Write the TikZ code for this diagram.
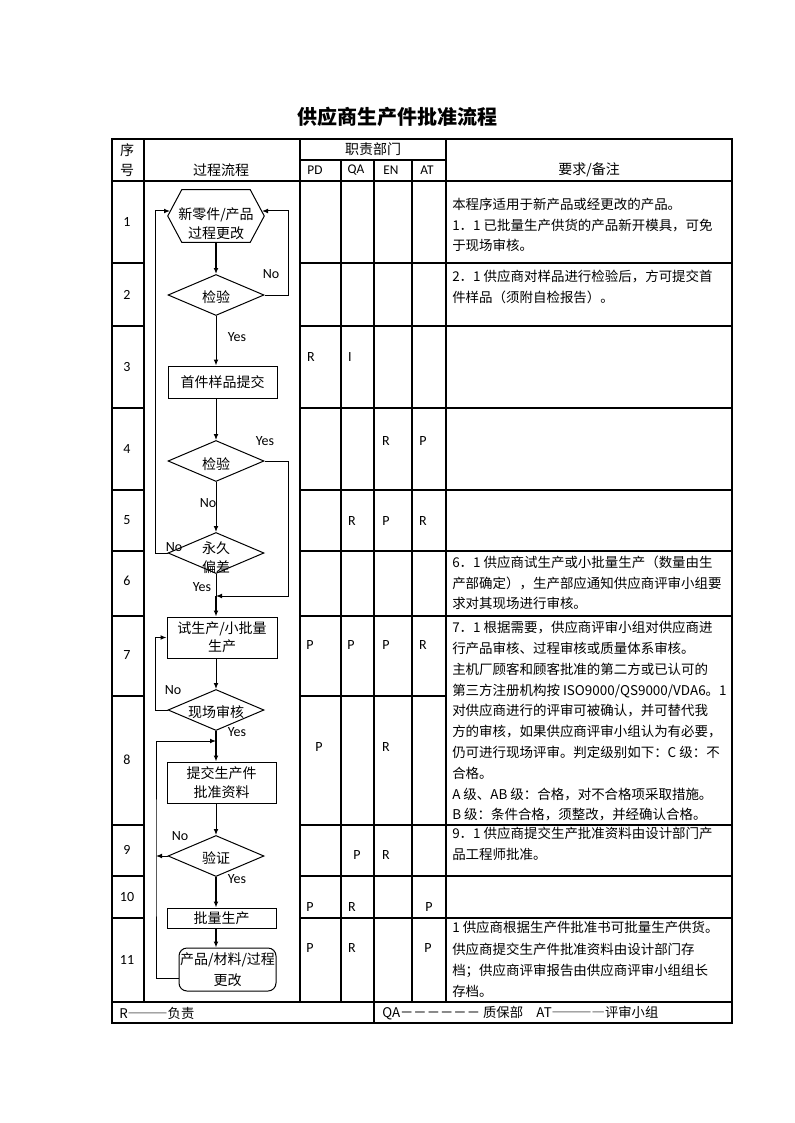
\documentclass[tikz,border=0pt]{standalone}
\usepackage{fontspec}
\setmainfont{Noto Sans CJK SC}
\newfontfamily\lat{Carlito}
\usetikzlibrary{shapes.geometric,arrows.meta,calc}
\begin{document}
\begin{tikzpicture}[x=0.75pt,y=-0.75pt,
  font=\fontsize{10.5}{13.5}\selectfont,
  tbl/.style={line width=0.8pt},
  fl/.style={line width=0.75pt},
  arr/.style={fl,-{Latex[length=4.5pt,width=3.6pt]}},
  thk/.style={line width=1.4pt},
  fbox/.style={draw,fl,rectangle,inner sep=0pt,align=center},
  dia/.style={draw,fl,diamond,inner sep=0pt,minimum width=72pt,minimum height=30.75pt},
  ftxt/.style={inner sep=0pt,align=center,font=\fontsize{10.5}{14.25}\selectfont},
  lbl/.style={inner sep=0pt,font=\lat\fontsize{10.5}{12}\selectfont},
  rem/.style={anchor=north west,inner sep=0pt,align=left,font=\fontsize{10.1}{15.3}\selectfont}]
\useasboundingbox (0,0) rectangle (794,1123);

% title
\node[inner sep=0pt,font=\fontsize{15}{18}\selectfont\bfseries] (title) at (397,117) {供应商生产件批准流程};

% table grid
\draw[tbl] (112,139) rectangle (732,1023);
\draw[tbl] (144,139) -- (144,1002) (300,139) -- (300,1002) (446,139) -- (446,1002);
\draw[tbl] (341,160) -- (341,1002) (374,160) -- (374,1023) (412,160) -- (412,1002);
\draw[tbl] (300,160) -- (446,160) (112,181) -- (732,181) (112,1002) -- (732,1002);
\foreach \y in {263,326,408,490,551,616,825,876,918}
  {\draw[tbl] (112,\y) -- (144,\y) (300,\y) -- (732,\y);}
\draw[tbl] (112,696) -- (144,696) (300,696) -- (446,696);

% header
\node[inner sep=0pt] (hxu) at (127,150) {序};
\node[inner sep=0pt] (hhao) at (127,170) {号};
\node[inner sep=0pt] (hflow) at (221,170) {过程流程};
\node[inner sep=0pt] (hdept) at (373,149) {职责部门};
\node[lbl,font=\lat\fontsize{10}{12}\selectfont] (hpd) at (315,170) {PD};
\node[lbl,font=\lat\fontsize{10}{12}\selectfont] (hqa) at (356,170) {QA};
\node[lbl,font=\lat\fontsize{10}{12}\selectfont] (hen) at (391,170) {EN};
\node[lbl,font=\lat\fontsize{10}{12}\selectfont] (hat) at (427,170) {AT};
\node[inner sep=0pt] (hreq) at (589,170) {要求/备注};

% row numbers
\foreach \n/\y in {1/222,2/295,3/367,4/449,5/520,6/581,7/655,8/760,9/850,10/897,11/960}
  {\node[lbl] (no\n) at (127,\y) {\n};}

% responsibilities
\foreach \t/\x/\y [count=\i] in {R/311/357,I/350/357,R/386/441,P/423/441,
  R/352/521,P/386/521,R/423/521,P/310/645,P/351/645,P/386/645,R/423/645,
  P/319/747,R/386/747,P/357/855,R/386/855,P/310/907,R/352/907,P/429/907,
  P/310/948,R/352/948,P/428/948}
  {\node[lbl] (resp\i) at (\x,\y) {\t};}

% ---------- flow chart ----------
\node[inner sep=0pt,minimum width=72pt,minimum height=39pt] (hex) at (216,216) {};
\draw[fl] (hex.west) -- ([xshift=10.5pt]hex.north west) -- ([xshift=-10.5pt]hex.north east)
  -- (hex.east) -- ([xshift=-10.5pt]hex.south east) -- ([xshift=10.5pt]hex.south west) -- cycle;
\node[ftxt] (hext) at (216,224) {新零件/产品\\过程更改};
\coordinate (hexR) at (262,211);
\coordinate (hexL) at (170,211);

\node[dia] (d1) at (216,295) {};
\node[ftxt] (d1t) at (216,297) {检验};
\node[fbox,minimum width=81.75pt,minimum height=24pt] (b1) at (222.5,382) {首件样品提交};
\node[dia] (d2) at (216,461) {};
\node[ftxt] (d2t) at (216,464) {检验};
\node[dia] (d3) at (216,553) {};
\node[ftxt] (d3t) at (216,558) {永久\\偏差};
\node[fbox,minimum width=82.5pt,minimum height=30.75pt,font=\fontsize{10.5}{13.5}\selectfont] (b2) at (222,637.5) {试生产/小批量\\生产};
\node[dia] (d4) at (216,710) {};
\node[ftxt] (d4t) at (216,712) {现场审核};
\node[fbox,minimum width=81.75pt,minimum height=30.75pt,font=\fontsize{10.5}{14.25}\selectfont] (b3) at (221.5,782.5) {提交生产件\\批准资料};
\node[dia] (d5) at (216,856) {};
\node[ftxt] (d5t) at (216,858) {验证};
\node[fbox,minimum width=81.75pt,minimum height=15pt] (b4) at (221.5,918) {批量生产};
\node[fbox,rounded corners=6pt,minimum width=72.75pt,minimum height=32.25pt,font=\fontsize{10.5}{15.75}\selectfont] (b5) at (227.5,969.5) {产品/材料/过程\\更改};

\coordinate (j1) at (216,596);
\coordinate (j2) at (216,741);
\coordinate (j3) at (156,856);

% connectors
\draw[arr,thk] (hex.south) -- (d1.north);
\draw[arr] (d1.east) -- ++(24,0) |- (hexR);
\draw[arr] (d1.south) -- (d1.south |- b1.north);
\draw[arr] (d1.south |- b1.south) -- (d2.north);
\draw[arr] (d2.east) -- ++(24,0) |- (j1);
\draw[arr] (d2.south) -- (d3.north);
\draw[fl] (d3.south) -- (j1);
\draw[arr,thk] (j1) -- (j1 |- b2.north);
\draw[arr] (d3.west) -- ++(-12,0) |- (hexL);
\draw[arr] (d4.north |- b2.south) -- (d4.north);
\draw[arr] (d4.west) -- ++(-12,0) |- (b2.west);
\draw[arr,thk] (d4.south) -- (d4.south |- b3.north);
\draw[arr] (d5.north |- b3.south) -- (d5.north);
\draw[arr] (d5.west) -- (j3);
\draw[arr,thk] (d5.south) -- (d5.south |- b4.north);
\draw[arr,thk] (d5.south |- b4.south) -- (d5.south |- b5.north);
\draw[arr] ([yshift=-7pt]b5.west) -| (j3) |- (j2);

% yes / no labels
\node[lbl] (n1) at (271,274) {No};
\node[lbl] (y1) at (237,337) {Yes};
\node[lbl] (y2) at (265,441) {Yes};
\node[lbl] (n2) at (208,503) {No};
\node[lbl] (n3) at (174,547) {No};
\node[lbl] (y3) at (202,587) {Yes};
\node[lbl] (n4) at (173,690) {No};
\node[lbl] (y4) at (237,732) {Yes};
\node[lbl] (n5) at (180,836) {No};
\node[lbl] (y5) at (237,879) {Yes};

% remarks
\node[rem] (r1) at (452,198) {本程序适用于新产品或经更改的产品。\\1．1 已批量生产供货的产品新开模具，可免\\于现场审核。};
\node[rem] (r2) at (452,270) {2．1 供应商对样品进行检验后，方可提交首\\件样品（须附自检报告）。};
\node[rem] (r6) at (452,556) {6．1 供应商试生产或小批量生产（数量由生\\产部确定），生产部应通知供应商评审小组要\\求对其现场进行审核。};
\node[rem,font=\fontsize{10.1}{15.6}\selectfont] (r7) at (452,621) {7．1 根据需要，供应商评审小组对供应商进\\行产品审核、过程审核或质量体系审核。\\主机厂顾客和顾客批准的第二方或已认可的\\第三方注册机构按 ISO9000/QS9000/VDA6。1\\对供应商进行的评审可被确认，并可替代我\\方的审核，如果供应商评审小组认为有必要，\\仍可进行现场评审。判定级别如下：C 级：不\\合格。\\A 级、AB 级：合格，对不合格项采取措施。\\B 级：条件合格，须整改，并经确认合格。};
\node[rem] (r9) at (452,827) {9．1 供应商提交生产批准资料由设计部门产\\品工程师批准。};
\node[rem,font=\fontsize{10.1}{16}\selectfont] (r11) at (452,921) {1 供应商根据生产件批准书可批量生产供货。\\供应商提交生产件批准资料由设计部门存\\档；供应商评审报告由供应商评审小组组长\\存档。};

% footer
\node[inner sep=0pt,anchor=west,font=\fontsize{10}{12}\selectfont] (fl) at (119,1013) {R―――负责};
\node[inner sep=0pt,anchor=west,font=\fontsize{10}{12}\selectfont] (fr) at (382,1013) {QA－－－－－－\ 质保部\quad AT――――评审小组};
\end{tikzpicture}
\end{document}
